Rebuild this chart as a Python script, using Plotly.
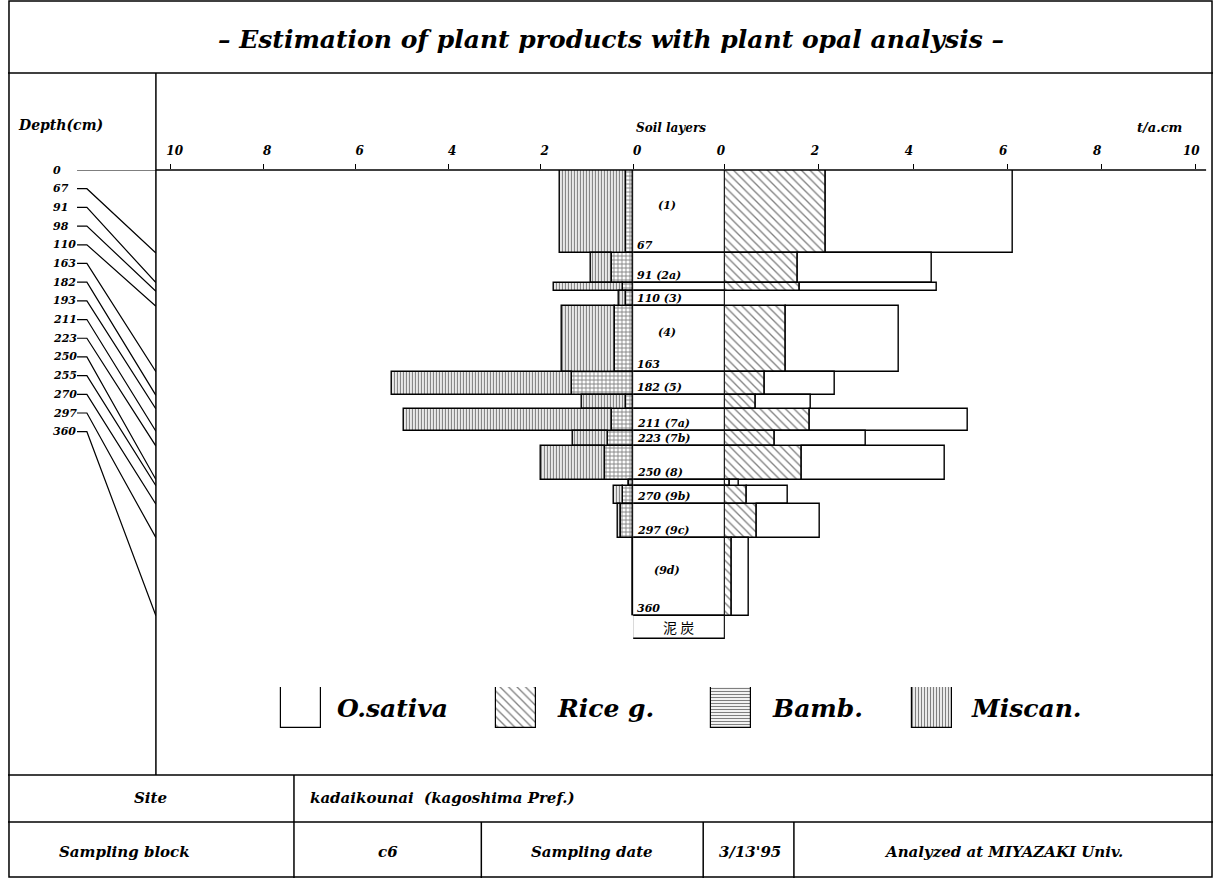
import plotly.graph_objects as go

# ---------------- data ----------------
boundaries = [0, 67, 91, 98, 110, 163, 182, 193, 211, 223, 250, 255, 270, 297, 360]
layer_names = ["(1)", "(2a)", "", "(3)", "(4)", "(5)", "", "(7a)", "(7b)", "(8)", "", "(9b)", "(9c)", "(9d)"]
labelled_depths = [67, 91, 110, 163, 182, 211, 223, 250, 270, 297, 360]
miscan   = [1.43, 0.47, 1.49, 0.15, 1.15, 3.90, 0.96, 4.50, 0.75, 1.38, 0.00, 0.19, 0.08, 0.00]
bamb     = [0.16, 0.45, 0.23, 0.15, 0.40, 1.32, 0.15, 0.45, 0.55, 0.62, 0.10, 0.23, 0.26, 0.00]
rice_g   = [2.14, 1.55, 1.59, 0.00, 1.30, 0.84, 0.65, 1.80, 1.07, 1.64, 0.10, 0.46, 0.69, 0.15]
o_sativa = [3.98, 2.85, 2.92, 0.00, 2.39, 1.49, 1.17, 3.36, 1.93, 3.04, 0.19, 0.88, 1.34, 0.37]
tick_vals = [0, 2, 4, 6, 8, 10]
legend_names = ["O.sativa", "Rice g.", "Bamb.", "Miscan."]
title_text = "– Estimation of plant products with plant opal analysis –"
peat_label = "泥 炭"
site = "kadaikounai  (kagoshima Pref.)"
sampling_block = "c6"
sampling_date = "3/13'95"
analyzed = "Analyzed at MIYAZAKI Univ."

# ---------------- layout constants ----------------
W, H = 1222, 878
FONT = "DejaVu Serif"
Y0, PXCM = 170, 1.238          # pixel of depth 0, pixels per cm
L0, LPX = 634, 46.9            # left zero pixel, px per unit
R0, RPX = 727, 47.7            # right zero pixel, px per unit
YBOT = 775
PEAT_H = 18.6
LABEL_STEP = 15.1


def px(x):
    return x / W


def py(y):
    return 1 - y / H


tops = boundaries[:-1]
bottoms = boundaries[1:]
mids = [(a + b) / 2 for a, b in zip(tops, bottoms)]
thick = [b - a for a, b in zip(tops, bottoms)]

line = dict(color="black", width=1.4)
fig = go.Figure()

# soil-layer column boxes (plus peat box below)
fig.add_trace(go.Bar(
    orientation="h", x=[1] * (len(mids) + 1), base=0,
    y=mids + [boundaries[-1] + PEAT_H / 2], width=thick + [PEAT_H],
    xaxis="x4", yaxis="y", marker=dict(color="white", line=line), showlegend=False))

# left side: Bamb (inner) + Miscan (outer)
fig.add_trace(go.Bar(
    orientation="h", x=bamb, base=0, y=mids, width=thick, xaxis="x", yaxis="y",
    marker=dict(color="white", line=line,
                pattern=dict(shape="+", size=4, solidity=0.4, fgcolor="black", bgcolor="white")),
    showlegend=False))
fig.add_trace(go.Bar(
    orientation="h", x=miscan, base=bamb, y=mids, width=thick, xaxis="x", yaxis="y",
    marker=dict(color="white", line=line,
                pattern=dict(shape="|", size=3, solidity=0.45, fgcolor="black", bgcolor="white")),
    showlegend=False))

# right side: Rice g. (inner) + O.sativa (outer)
fig.add_trace(go.Bar(
    orientation="h", x=rice_g, base=0, y=mids, width=thick, xaxis="x2", yaxis="y",
    marker=dict(color="white", line=line,
                pattern=dict(shape="\\", size=6, solidity=0.22, fgcolor="black", bgcolor="white")),
    showlegend=False))
fig.add_trace(go.Bar(
    orientation="h", x=o_sativa, base=rice_g, y=mids, width=thick, xaxis="x2", yaxis="y",
    marker=dict(color="white", line=line), showlegend=False))

# depth connectors in the left column
label_y = [i * LABEL_STEP for i in range(len(boundaries))]
cx, cy = [], []
for ly, d in zip(label_y, boundaries):
    cx += [70, 80, 150, None]
    cy += [ly, ly, d, None]
fig.add_trace(go.Scatter(x=cx, y=cy, mode="lines", line=dict(color="black", width=1.2),
                         xaxis="x3", yaxis="y", showlegend=False, hoverinfo="skip"))

# legend swatches
leg_x = [297, 515, 733, 937]
fig.add_trace(go.Bar(
    x=leg_x, y=[1] * 4, base=0, width=40, xaxis="x5", yaxis="y5",
    marker=dict(color="white", line=dict(color="black", width=1.2),
                pattern=dict(shape=["", "\\", "-", "|"], size=[6, 6, 3, 3], solidity=[0.0, 0.22, 0.4, 0.45],
                             fgcolor="black", bgcolor="white")),
    showlegend=False))

tickfont = dict(family=FONT, size=12, color="black", weight="bold", style="italic")
common_x = dict(side="top", anchor="y", tickvals=tick_vals, ticks="outside", ticklen=5,
                tickcolor="black", tickwidth=1.3, showgrid=False, zeroline=False, showline=False,
                tickfont=tickfont, ticklabelshift=-4, ticklabelstandoff=4, fixedrange=True)

fig.update_layout(
    width=W, height=H, autosize=False, margin=dict(l=0, r=0, t=0, b=0),
    paper_bgcolor="white", plot_bgcolor="white", barmode="overlay", bargap=0,
    xaxis=dict(domain=[px(150), px(L0)], range=[(L0 - 150) / LPX, 0], **common_x),
    xaxis2=dict(domain=[px(R0), 1], range=[0, (W - R0) / RPX], **common_x),
    xaxis3=dict(domain=[0, px(150)], range=[0, 150], visible=False, anchor="y"),
    xaxis4=dict(domain=[px(L0), px(R0)], range=[0, 1], visible=False, anchor="y"),
    xaxis5=dict(domain=[0, 1], range=[0, W], visible=False, anchor="y5"),
    yaxis=dict(domain=[py(YBOT), py(Y0)], range=[(YBOT - Y0) / PXCM, 0], visible=False),
    yaxis5=dict(domain=[py(728), py(687)], range=[0, 1], visible=False, anchor="x5"),
)

shapes = []
blk = dict(color="black", width=1.5)


def hline(x0, x1, y):
    shapes.append(dict(type="line", xref="paper", yref="paper", x0=px(x0), x1=px(x1), y0=py(y), y1=py(y), line=blk))


def vline(x, y0, y1):
    shapes.append(dict(type="line", xref="paper", yref="paper", x0=px(x), x1=px(x), y0=py(y0), y1=py(y1), line=blk))


shapes.append(dict(type="rect", xref="paper", yref="paper", x0=px(1), x1=px(W - 1), y0=py(1), y1=py(H - 1), line=blk))
hline(0, W, 73)
vline(150, 73, YBOT)
hline(150, 1215, Y0)
hline(0, W, YBOT)
hline(0, W, 822)
vline(290, YBOT, H)
vline(480, 822, H)
vline(705, 822, H)
vline(797, 822, H)
fig.update_layout(shapes=shapes)

ann = []


def text(x, y, s, size, xanchor="center", xref="paper", yref="paper", yanchor="middle", yshift=0, family=FONT, fmt=True):
    ann.append(dict(x=x, y=y, xref=xref, yref=yref, text=(f"<b><i>{s}</i></b>" if fmt else s), showarrow=False,
                    xanchor=xanchor, yanchor=yanchor, yshift=yshift,
                    font=dict(family=family, size=size, color="black")))


text(px(611), py(40), title_text, 25)
text(px(8), py(125), "Depth(cm)", 14, xanchor="left")
text(px(672), py(128), "Soil layers", 12)
text(px(1168), py(128), "t/a.cm", 13)

for ly, d in zip(label_y, boundaries):
    text(44, ly, str(d), 11, xanchor="left", xref="x3", yref="y")

for name, t, b, m in zip(layer_names, tops, bottoms, mids):
    lab = b in labelled_depths
    if b - t >= 50:
        if name:
            text(px(668), m, name, 11, xref="paper", yref="y", yshift=6)
        if lab:
            text(px(636), b, str(b), 11, xanchor="left", yref="y", yanchor="bottom", yshift=-1)
    elif lab:
        s = f"{b} {name}" if name else str(b)
        text(px(636), b, s, 11, xanchor="left", yref="y", yanchor="bottom", yshift=-1)
text(px(680), boundaries[-1] + PEAT_H / 2, peat_label, 14, yref="y", family="Noto Sans CJK JP", fmt=False)

for name, lx in zip(legend_names, [332, 555, 773, 975]):
    text(px(lx), py(708), name, 25, xanchor="left")

text(px(145), py(798), "Site", 15)
text(px(304), py(798), site, 15, xanchor="left")
text(px(118), py(852), "Sampling block", 15)
text(px(385), py(852), sampling_block, 15)
text(px(592), py(852), "Sampling date", 15)
text(px(752), py(852), sampling_date, 15)
text(px(1010), py(852), analyzed, 15)

fig.update_layout(annotations=ann)

post = "document.documentElement.style.margin='0';document.body.style.margin='0';"
fig.write_html("out.html", config={"displayModeBar": False, "responsive": False}, post_script=post)
